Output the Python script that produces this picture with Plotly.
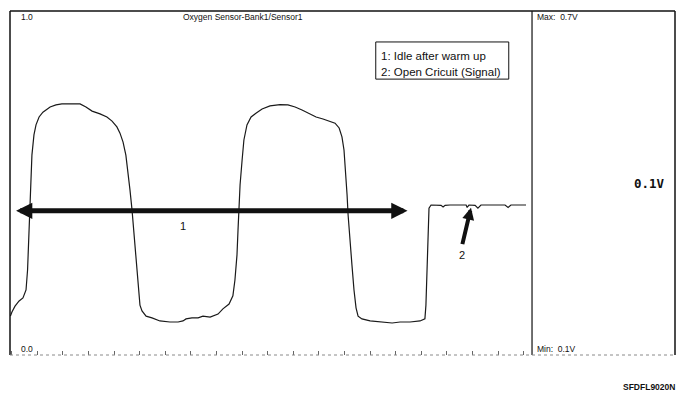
import plotly.graph_objects as go

# Oxygen sensor signal (time in tick units, voltage in V)
time_s = [-0.05, 0.01, 0.13, 0.29, 0.44, 0.56, 0.62, 0.66, 0.71, 0.75, 0.79, 0.87, 0.95, 1.07,
          1.22, 1.50, 1.73, 1.96, 2.36, 2.67, 2.90, 3.14, 3.45, 3.72, 3.92, 4.11, 4.23, 4.35,
          4.46, 4.54, 4.62, 4.70, 4.78, 4.86, 4.93, 5.01, 5.09, 5.25, 5.48, 5.79, 6.18, 6.50,
          6.69, 6.81, 7.04, 7.28, 7.47, 7.75, 8.06, 8.25, 8.49, 8.64, 8.72, 8.80, 8.84, 8.88,
          8.92, 9.00, 9.07, 9.19, 9.35, 9.54, 9.78, 10.09, 10.48, 10.79, 11.07, 11.34, 11.65,
          11.89, 12.16, 12.43, 12.63, 12.79, 12.90, 12.98, 13.04, 13.10, 13.14, 13.21, 13.29,
          13.37, 13.45, 13.53, 13.68, 14.00, 14.39, 14.86, 15.17, 15.56, 15.95, 16.14, 16.18,
          16.22, 16.26, 16.30, 16.38, 16.65, 16.77, 16.85, 16.93, 17.12, 17.59, 17.75, 17.79,
          17.86, 18.10, 18.21, 18.33, 19.27, 19.39, 19.50, 20.09]
voltage = [0.113, 0.125, 0.142, 0.157, 0.166, 0.189, 0.247, 0.334, 0.430, 0.523, 0.581, 0.640,
           0.669, 0.692, 0.706, 0.721, 0.727, 0.730, 0.731, 0.730, 0.721, 0.709, 0.701, 0.692,
           0.680, 0.663, 0.645, 0.619, 0.581, 0.538, 0.480, 0.422, 0.349, 0.276, 0.203, 0.145,
           0.128, 0.113, 0.108, 0.099, 0.096, 0.096, 0.099, 0.105, 0.108, 0.108, 0.113, 0.110,
           0.119, 0.134, 0.148, 0.172, 0.218, 0.291, 0.363, 0.430, 0.494, 0.567, 0.625, 0.669,
           0.692, 0.703, 0.715, 0.724, 0.728, 0.727, 0.721, 0.712, 0.701, 0.692, 0.686, 0.680,
           0.674, 0.660, 0.634, 0.596, 0.538, 0.465, 0.407, 0.349, 0.262, 0.189, 0.137, 0.113,
           0.105, 0.099, 0.096, 0.093, 0.096, 0.096, 0.099, 0.105, 0.145, 0.247, 0.349, 0.427,
           0.436, 0.436, 0.435, 0.430, 0.435, 0.436, 0.436, 0.436, 0.429, 0.436, 0.435, 0.427,
           0.436, 0.436, 0.429, 0.436, 0.436]

tick_vals = list(range(0, 21))
title_text = "Oxygen Sensor-Bank1/Sensor1"
legend_lines = ["1: Idle after warm up", "2: Open Cricuit (Signal)"]
y_top_label, y_bottom_label = "1.0", "0.0"
max_label, min_label, current_label = "Max:  0.7V", "Min:  0.1V", "0.1V"
code_label = "SFDFL9020N"

fig = go.Figure()
fig.add_trace(go.Scatter(x=time_s, y=voltage, mode="lines",
                         line=dict(color="#1a1a1a", width=1.2), hoverinfo="skip",
                         showlegend=False))

FONT = "Liberation Sans, Arial, sans-serif"
INK = "#111111"

shapes = [
    dict(type="line", xref="paper", yref="paper", x0=0, x1=1, y0=1, y1=1,
         line=dict(color=INK, width=1.5)),
    dict(type="line", xref="paper", yref="paper", x0=0, x1=0, y0=0, y1=1,
         line=dict(color=INK, width=1.5)),
    dict(type="line", xref="paper", yref="paper", x0=1, x1=1, y0=0, y1=1,
         line=dict(color=INK, width=1.5)),
    dict(type="line", xref="paper", yref="paper", x0=0.785, x1=0.785, y0=0, y1=1,
         line=dict(color=INK, width=1.2)),
    dict(type="line", xref="paper", yref="paper", x0=0, x1=1, y0=0, y1=0,
         line=dict(color="#8a8a8a", width=1, dash="dot")),
    dict(type="rect", xref="paper", yref="paper", x0=0.550, x1=0.750, y0=0.802, y1=0.910,
         line=dict(color=INK, width=1), fillcolor="white"),
]

small = dict(family=FONT, size=8.5, color=INK)
annotations = [
    dict(text=y_top_label, xref="paper", yref="paper", x=0.013, y=0.983,
         xanchor="left", yanchor="middle", showarrow=False, font=small),
    dict(text=title_text, xref="paper", yref="paper", x=0.350, y=0.983,
         xanchor="center", yanchor="middle", showarrow=False, font=small),
    dict(text=max_label, xref="paper", yref="paper", x=0.790, y=0.983,
         xanchor="left", yanchor="middle", showarrow=False, font=small),
    dict(text=y_bottom_label, xref="paper", yref="paper", x=0.013, y=0.018,
         xanchor="left", yanchor="middle", showarrow=False, font=small),
    dict(text=min_label, xref="paper", yref="paper", x=0.790, y=0.018,
         xanchor="left", yanchor="middle", showarrow=False, font=small),
    dict(text="<b>" + current_label + "</b>", xref="paper", yref="paper", x=0.988, y=0.5,
         xanchor="right", yanchor="middle", showarrow=False,
         font=dict(family="DejaVu Sans Mono, monospace", size=12.5, color=INK)),
    dict(text="<b>" + code_label + "</b>", xref="paper", yref="paper", x=1.003, y=-0.093,
         xanchor="right", yanchor="middle", showarrow=False,
         font=dict(family=FONT, size=8.5, color=INK)),
    dict(text=legend_lines[0], xref="paper", yref="paper", x=0.555, y=0.868,
         xanchor="left", yanchor="middle", showarrow=False,
         font=dict(family=FONT, size=11.5, color=INK)),
    dict(text=legend_lines[1], xref="paper", yref="paper", x=0.555, y=0.824,
         xanchor="left", yanchor="middle", showarrow=False,
         font=dict(family=FONT, size=11.5, color=INK)),
    # double-headed arrow "1"
    dict(text="", x=0.17, y=0.419, ax=15.52, ay=0.419, xref="x", yref="y",
         axref="x", ayref="y", showarrow=True, arrowhead=2, arrowside="end+start",
         arrowwidth=5, arrowsize=0.65, arrowcolor=INK),
    dict(text="1", x=6.69, y=0.375, xref="x", yref="y", showarrow=False,
         font=dict(family=FONT, size=11, color=INK)),
    # arrow "2"
    dict(text="", x=17.94, y=0.428, ax=17.59, ay=0.318, xref="x", yref="y",
         axref="x", ayref="y", showarrow=True, arrowhead=2,
         arrowwidth=4, arrowsize=0.6, arrowcolor=INK),
    dict(text="2", x=17.59, y=0.291, xref="x", yref="y", showarrow=False,
         font=dict(family=FONT, size=11, color=INK)),
]

# the page body has an 8px default margin, so the figure is 8px smaller each way
fig.update_layout(
    width=679, height=391,
    margin=dict(l=2, r=12, t=3, b=44),
    paper_bgcolor="white", plot_bgcolor="white",
    xaxis=dict(domain=[0, 0.785], range=[-0.066, 20.324], showgrid=False, zeroline=False,
               showline=False, ticks="inside", ticklen=4, tickwidth=1, tickcolor="#666",
               tickvals=tick_vals, showticklabels=False),
    yaxis=dict(range=[0, 1], showgrid=False, zeroline=False, showline=False,
               showticklabels=False, ticks=""),
    shapes=shapes, annotations=annotations,
)

fig.write_html("out.html")
